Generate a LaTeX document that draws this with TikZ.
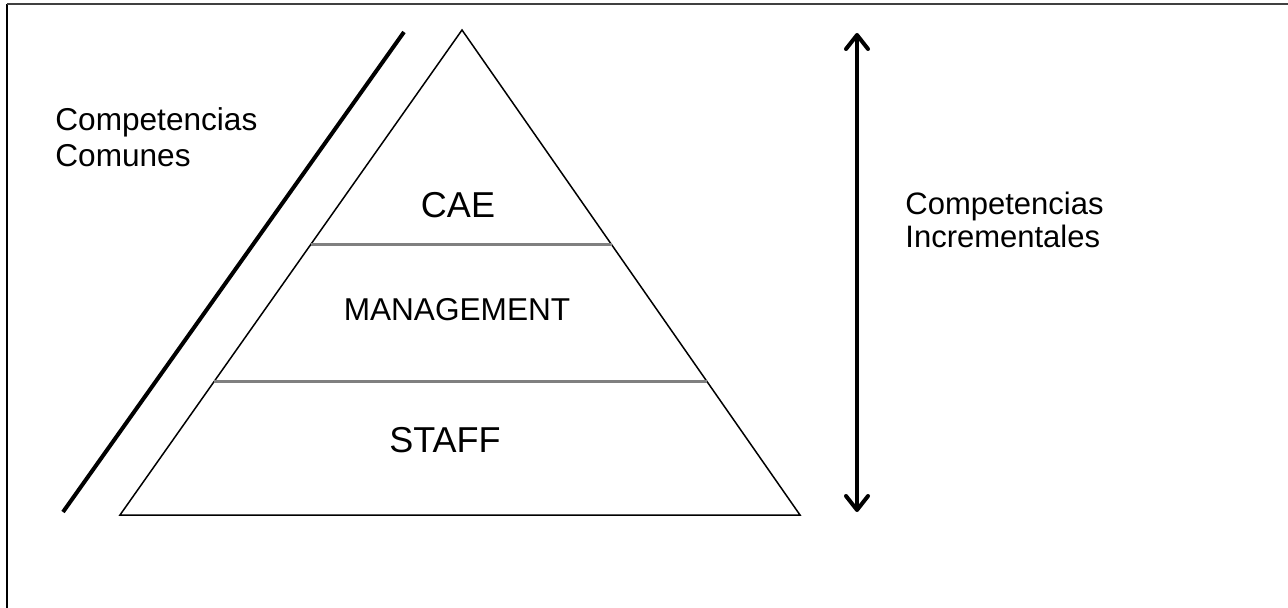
\documentclass[tikz,border=0pt]{standalone}
\usepackage{fontspec}
\setmainfont{Liberation Sans}
\usetikzlibrary{arrows.meta, calc, positioning}

\begin{document}
\begin{tikzpicture}[x=0.5pt, y=-0.5pt, >={Straight Barb[round, length=7pt, width=11pt]}]
    \tikzstyle{label}=[inner sep=0pt, align=left, font=\fontsize{15.8}{18}\selectfont]
    \tikzstyle{level}=[inner sep=0pt, font=\fontsize{18}{21}\selectfont]
    \tikzstyle{divider}=[draw=gray, line width=1.5pt]
    \useasboundingbox (0,0) rectangle (1288,608);

    % frame
    \coordinate (F0) at (7,608);
    \coordinate (F1) at (7,4);
    \coordinate (F2) at (1288,4);
    \draw[line width=0.6pt] (F0) -- (F1);
    \draw[gray!50!black, line width=1pt] (F1) -- (F2);

    % pyramid
    \coordinate (T)  at (462,30);
    \coordinate (BL) at (120,515);
    \coordinate (BR) at (800,515);
    \draw[line width=0.75pt] (T) -- (BL) -- (BR) -- cycle;
    \draw[divider] ($(T)!0.443!(BL)$) -- ($(T)!0.443!(BR)$);
    \draw[divider] ($(T)!0.724!(BL)$) -- ($(T)!0.724!(BR)$);

    \node[level]                      (cae)   at (458,205) {CAE};
    \node[label]                      (mgmt)  at (457,310) {MANAGEMENT};
    \node[level]                      (staff) at (445,440) {STAFF};

    % side labels
    \node[label, anchor=base west]    (comunes) at (55,167)  {Competencias\\Comunes};
    \node[label, anchor=base west, font=\fontsize{15.5}{16.5}\selectfont]
                                      (increm)  at (905,248) {Competencias\\Incrementales};

    % slash and arrow
    \coordinate (S0) at (63,512);
    \coordinate (S1) at (404,32);
    \draw[line width=2pt] (S0) -- (S1);

    \coordinate (A0) at (857,33);
    \coordinate (A1) at (857,512);
    \draw[<->, line width=2pt] (A0) -- (A1);
\end{tikzpicture}
\end{document}
